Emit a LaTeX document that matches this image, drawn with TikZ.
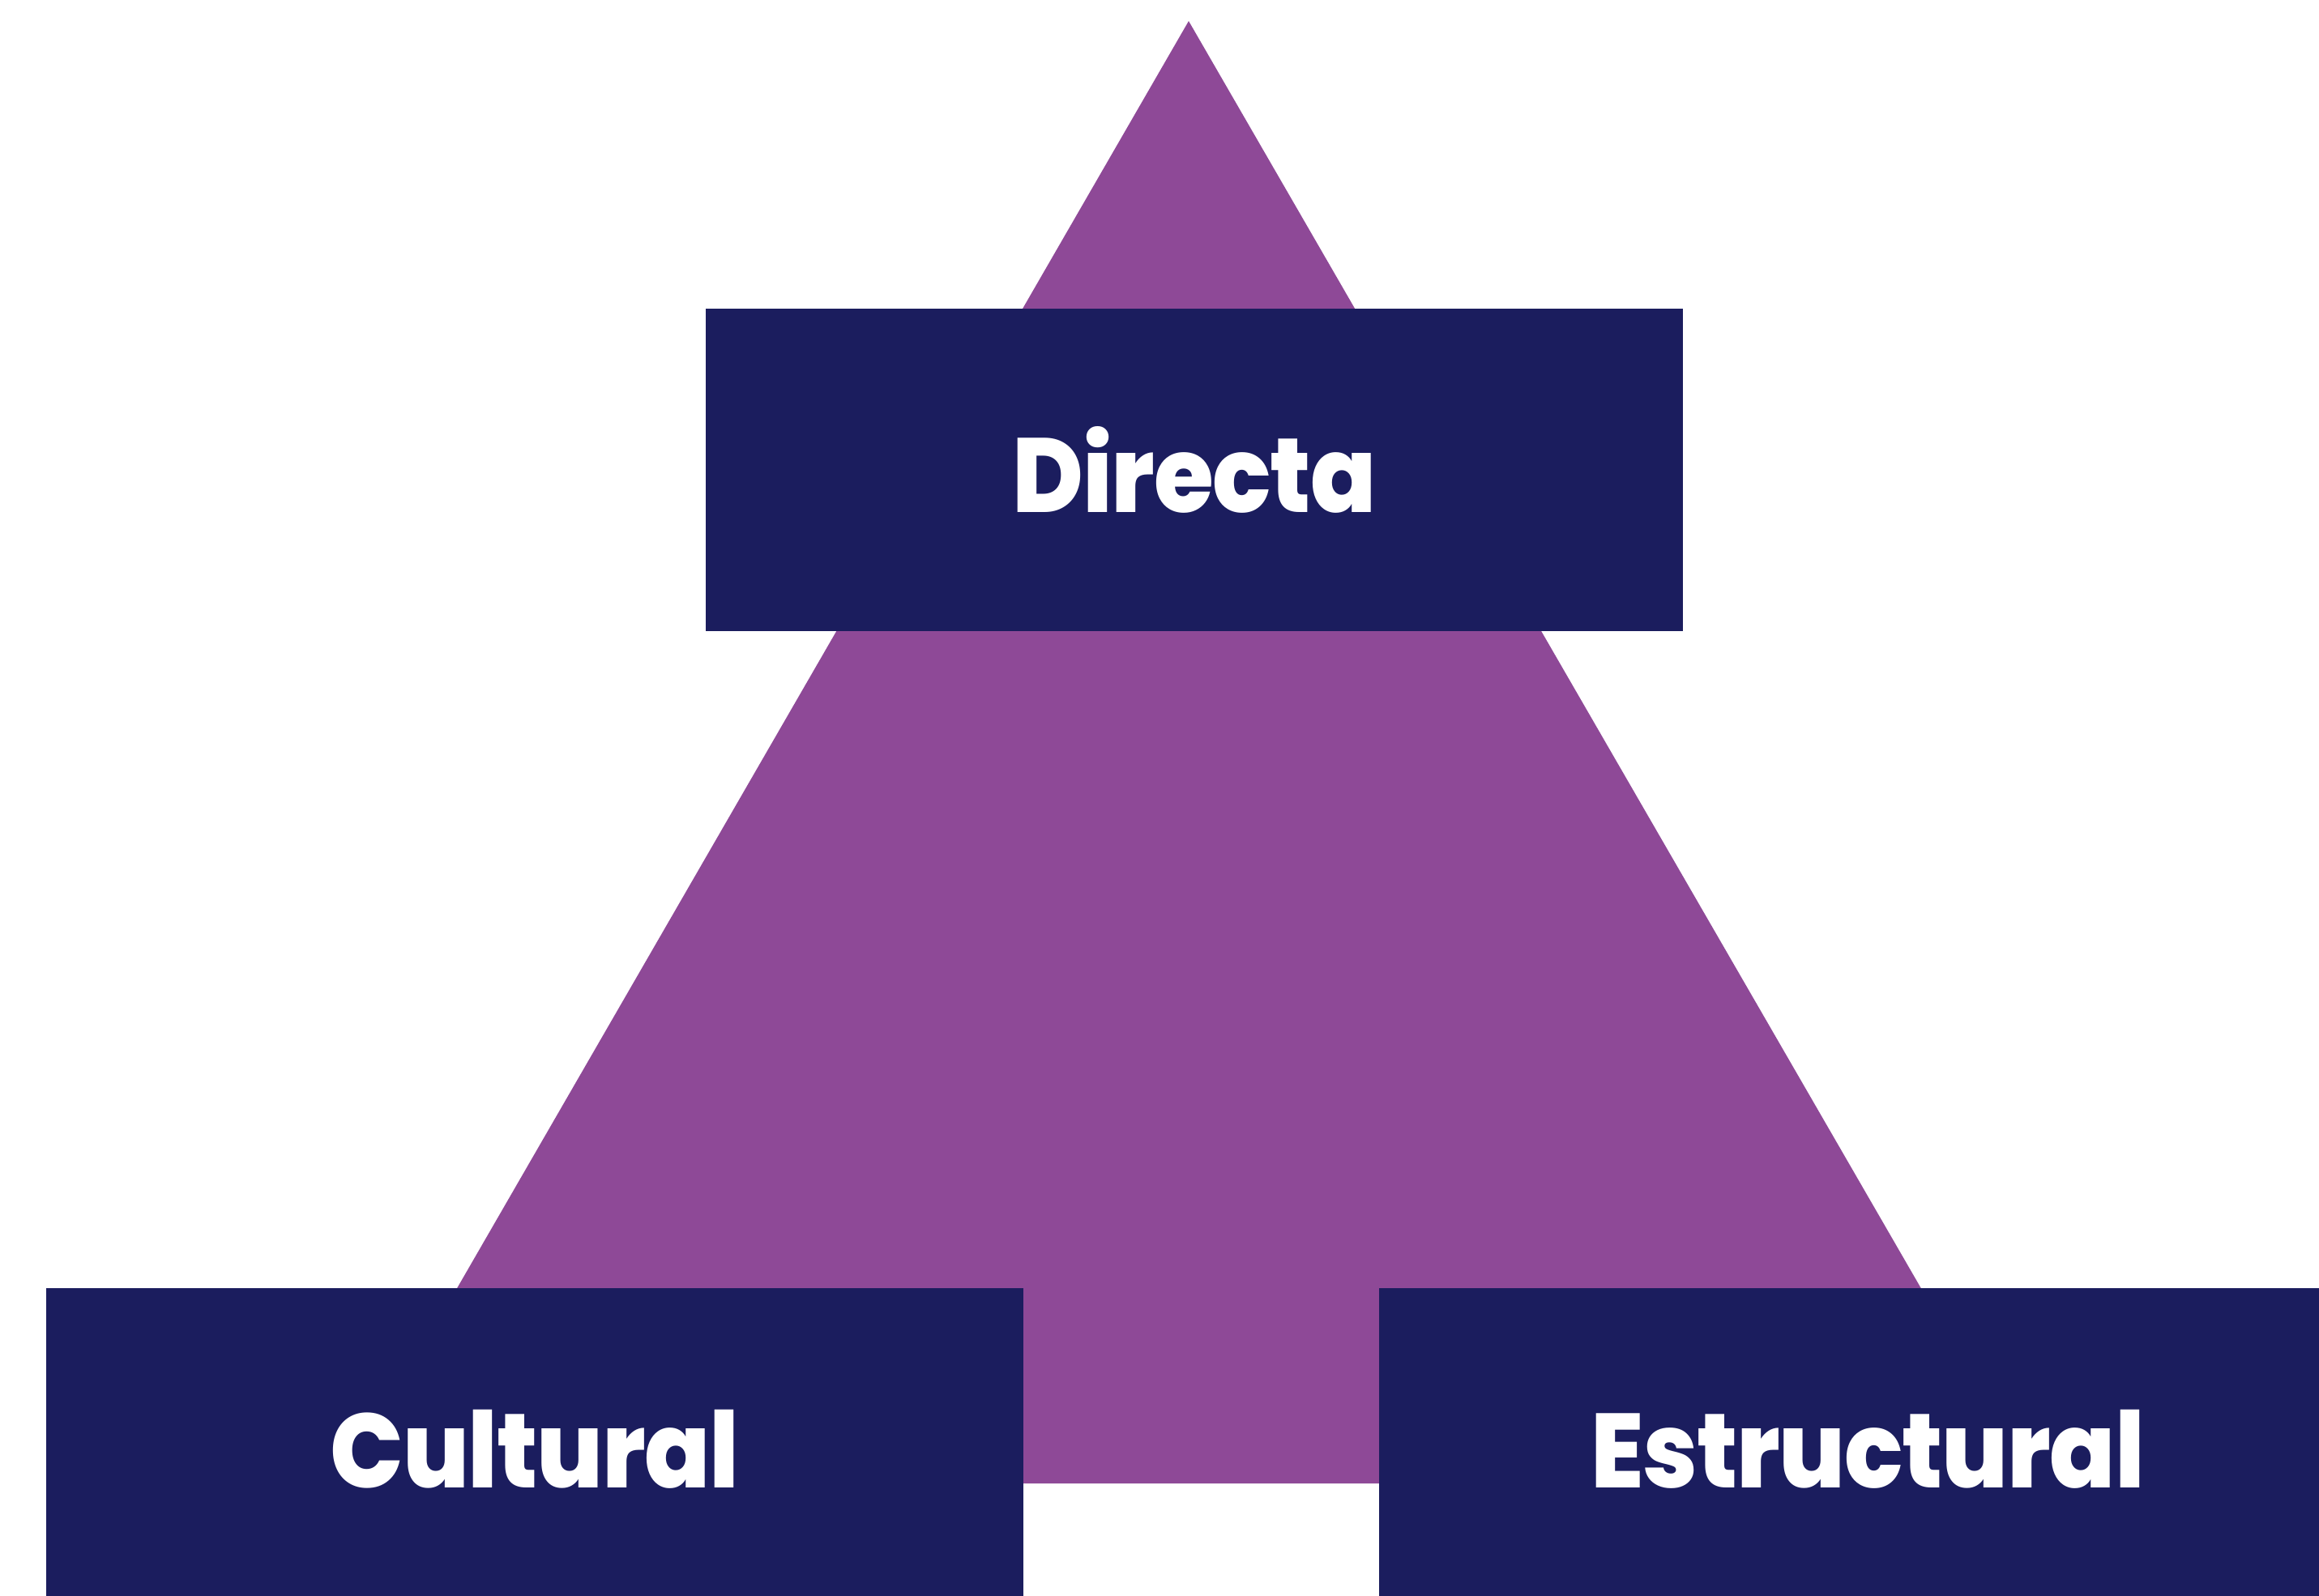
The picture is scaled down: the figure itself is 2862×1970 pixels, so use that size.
\documentclass[tikz,border=0pt]{standalone}
\usepackage{fontspec}
\setmainfont{Poppins}[BoldFont={Poppins ExtraBold}, BoldFeatures={FakeStretch=0.92}, LetterSpace=-1]
\definecolor{tripurple}{HTML}{8E4997}
\definecolor{boxnavy}{HTML}{1B1D5E}
\tikzset{
  tri/.style={fill=tripurple},
  labelbox/.style={rectangle, fill=boxnavy, draw=none, minimum width=12.06cm, minimum height=3.97cm, inner sep=0pt,
    text=white, font=\fontsize{37}{44}\selectfont\bfseries}
}
\begin{document}
\begin{tikzpicture}[x=0.01cm,y=-0.01cm]
\useasboundingbox (0,0) rectangle (2862,1970);
\clip (0,0) rectangle (2862,1970);
\fill[white] (0,0) rectangle (2862,1970);
\coordinate (apex) at (1467,26);
\coordinate (bl) at (425,1831);
\coordinate (br) at (2510,1831);
\fill[tri] (apex) -- (bl) -- (br) -- cycle;
\node[labelbox] (directa) at (1474,580) {Directa};
\node[labelbox] (cultural) at (660,1789) {Cultural};
\node[labelbox] (estructural) at (2305,1789) {Estructural};
\end{tikzpicture}
\end{document}
